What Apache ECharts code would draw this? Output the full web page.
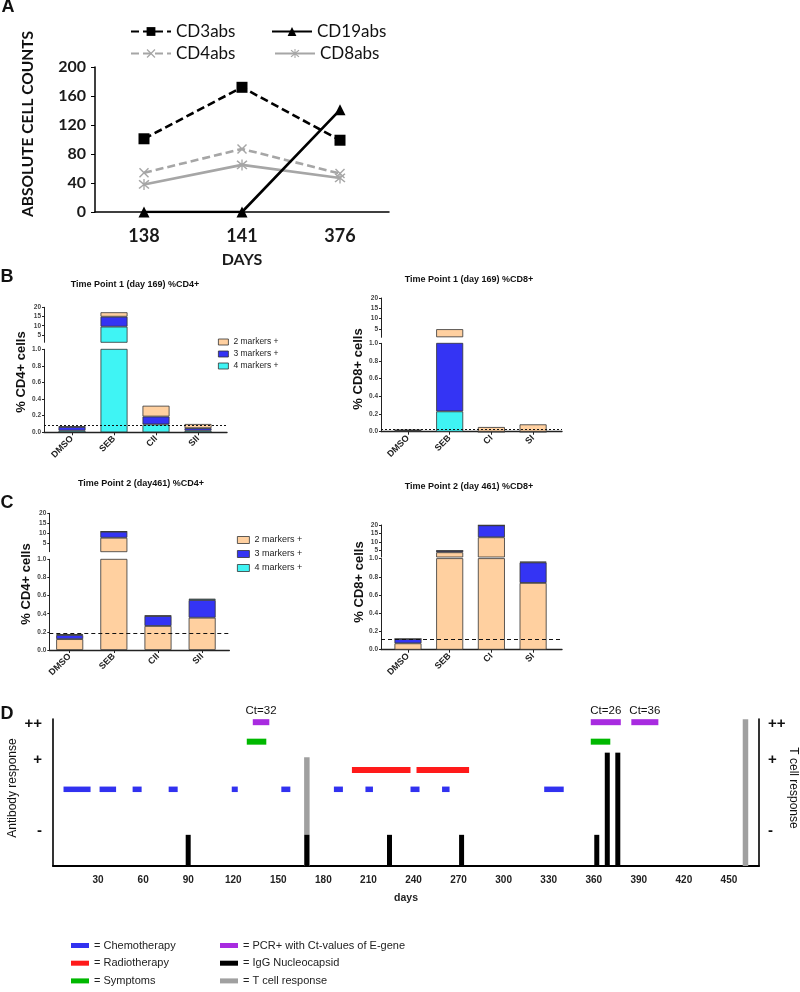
<!DOCTYPE html>
<html><head><meta charset="utf-8">
<script src="https://cdn.jsdelivr.net/npm/echarts@6/dist/echarts.min.js"></script>
<style>html,body{margin:0;padding:0;background:#fff}#c{width:800px;height:992px}</style>
</head><body><div id="c"></div>
<script>
// ---------- Panel A data ----------
const daysA = ['138', '141', '376'];
const cd3abs = [101, 172, 99];
const cd19abs = [0, 0, 141];
const cd4abs = [54, 87, 53];
const cd8abs = [38, 65, 47];

// ---------- Panel B / C data ----------
const stimCD4 = ['DMSO', 'SEB', 'CII', 'SII'];
const stimCD8 = ['DMSO', 'SEB', 'CI', 'SI'];
const upperTicks = [5, 10, 15, 20];
// Time point 1 (day 169) %CD4+
const tp1CD4_m2 = [0.005, 2.4, 0.13, 0.05];
const tp1CD4_m3 = [0.045, 5.4, 0.095, 0.03];
const tp1CD4_m4 = [0.02, 9.5, 0.095, 0.02];
const tp1CD4_thr = 0.076;
// Time point 1 (day 169) %CD8+
const tp1CD8_m2 = [0.005, 3.9, 0.053, 0.083];
const tp1CD8_m3 = [0.01, 0.8, 0, 0];
const tp1CD8_m4 = [0.005, 0.23, 0, 0];
const tp1CD8_thr = 0.03;
// Time point 2 (day 461) %CD4+
const tp2CD4_m2 = [0.12, 7.9, 0.265, 0.356];
const tp2CD4_m3 = [0.045, 3.0, 0.11, 0.195];
const tp2CD4_m4 = [0.01, 0.15, 0.005, 0.015];
const tp2CD4_thr = 0.176;
// Time point 2 (day 461) %CD8+
const tp2CD8_m2 = [0.07, 3.8, 12.7, 0.733];
const tp2CD8_m3 = [0.048, 0.9, 7.1, 0.225];
const tp2CD8_m4 = [0, 0, 0, 0.008];
const tp2CD8_thr = 0.114;

// ---------- Panel D data ----------
const chemoDays = [[7,25],[31,42],[53,59],[77,83],[119,123],[152,158],[187,193],[208,213],[238,244],[259,264],[327,340]];
const radioDays = [[199,238],[242,277]];
const symptomDays = [[129,142],[358,371]];
const pcrDays = [[133,144],[358,378],[385,403]];
const pcrCtLabels = ['Ct=32', 'Ct=26', 'Ct=36'];
const iggDays = [90, 169, 224, 272, 362, 369, 376];
const iggLevel = [0.88, 0.88, 0.88, 0.88, 0.88, 3.2, 3.2];
const tcellDays = [169, 461];
const tcellLevel = [3.07, 4.14];
const responseTickValues = [1, 3, 4];
const responseTickLabels = ['-', '+', '++'];

// ---------- styles ----------
const PEACH = '#ffd0a0', BLUE = '#3434f4', CYAN = '#3ff4f4';
const ARIAL = 'Liberation Sans, Arial, sans-serif';
const M2 = '2 markers +', M3 = '3 markers +', M4 = '4 markers +';

const option = {
  animation: false,
  backgroundColor: '#fff',
  grid: [], xAxis: [], yAxis: [], series: [], legend: [], graphic: []
};

// ---------- Panel A ----------
option.grid.push({left: 95, top: 67, width: 294, height: 145, outerBoundsMode: 'none'});
option.xAxis.push({
  type: 'category', gridIndex: 0, data: daysA, boundaryGap: true,
  axisLine: {show: true, onZero: false, lineStyle: {color: '#000', width: 1.5}},
  axisTick: {show: false},
  axisLabel: {fontFamily: 'Lato', fontWeight: 'bold', fontSize: 18, color: '#1a1a1a', margin: 15},
  name: 'DAYS', nameLocation: 'middle', nameGap: 40,
  nameTextStyle: {fontFamily: 'Lato', fontWeight: 'bold', fontSize: 16, color: '#1a1a1a'}
});
option.yAxis.push({
  type: 'value', gridIndex: 0, min: 0, max: 200, interval: 40,
  axisLine: {show: true, onZero: false, lineStyle: {color: '#000', width: 1.5}},
  axisTick: {show: true, length: 4, lineStyle: {color: '#000'}},
  axisLabel: {fontFamily: 'Lato', fontWeight: 'bold', fontSize: 16, color: '#1a1a1a', margin: 9},
  splitLine: {show: false}
});
const xMark = 'path://M1,0 L5,4 L9,0 L10,1 L6,5 L10,9 L9,10 L5,6 L1,10 L0,9 L4,5 L0,1 Z';
const asterisk = 'path://M1,0 L5,4 L9,0 L10,1 L6,5 L10,9 L9,10 L5,6 L1,10 L0,9 L4,5 L0,1 Z M4.4,-1 L5.6,-1 L5.6,11 L4.4,11 Z';
function lineSeries(name, data, color, dashed, symbol, size) {
  return {
    type: 'line', name, data, xAxisIndex: 0, yAxisIndex: 0,
    symbol, symbolSize: size, itemStyle: {color},
    lineStyle: {color, width: 2.6, type: dashed ? [8, 4] : 'solid'}
  };
}
option.series.push(lineSeries('CD4abs', cd4abs, '#a6a6a6', true, xMark, 10));
option.series.push(lineSeries('CD8abs', cd8abs, '#a6a6a6', false, asterisk, 11));
option.series.push(lineSeries('CD3abs', cd3abs, '#000', true, 'rect', 11));
option.series.push(lineSeries('CD19abs', cd19abs, '#000', false, 'triangle', 11));
function legA(name, left, top) {
  return {
    data: [name], left, top, padding: 0, itemWidth: 40, itemHeight: 11, selectedMode: false,
    textStyle: {fontFamily: 'Lato', fontSize: 17, color: '#111'}
  };
}
option.legend.push(legA('CD3abs', 130, 23));
option.legend.push(legA('CD19abs', 271, 23));
option.legend.push(legA('CD4abs', 130, 45));
option.legend.push(legA('CD8abs', 274, 45));

// ---------- Panels B and C (broken y axes) ----------
function addBroken(c) {
  const gi = option.grid.length;
  const xa = option.xAxis.length;
  const ya = option.yAxis.length;
  const w = c.xR - c.xL;
  option.grid.push({left: c.xL, width: w, top: c.upTop, height: c.upBot - c.upTop, outerBoundsMode: 'none'});
  option.grid.push({left: c.xL, width: w, top: c.lowTop, height: c.lowBot - c.lowTop, outerBoundsMode: 'none'});
  option.xAxis.push({type: 'value', gridIndex: gi, min: c.xmin, max: c.xmax, show: false, splitLine: {show: false}});
  option.xAxis.push({
    type: 'value', gridIndex: gi + 1, min: c.xmin, max: c.xmax,
    axisLine: {show: true, onZero: false, lineStyle: {color: '#222', width: 1.4}},
    axisTick: {show: true, customValues: [0, 1, 2, 3], length: 3, lineStyle: {color: '#222'}},
    axisLabel: {customValues: [0, 1, 2, 3], formatter: v => c.cats[Math.round(v)], rotate: 45,
      fontFamily: ARIAL, fontWeight: 'bold', fontSize: 9, color: '#222', margin: 5},
    splitLine: {show: false}
  });
  const yLbl = {fontFamily: ARIAL, fontWeight: 'bold', fontSize: 6.5, color: '#444', margin: 3};
  option.yAxis.push({
    type: 'value', gridIndex: gi, min: 1, max: 20,
    axisLine: {show: true, onZero: false, lineStyle: {color: '#222', width: 1}},
    axisTick: {show: true, customValues: upperTicks, length: 2, lineStyle: {color: '#222'}},
    axisLabel: Object.assign({customValues: upperTicks}, yLbl),
    splitLine: {show: false}
  });
  option.yAxis.push({
    type: 'value', gridIndex: gi + 1, min: 0, max: 1, interval: 0.2,
    axisLine: {show: true, onZero: false, lineStyle: {color: '#222', width: 1}},
    axisTick: {show: true, length: 2, lineStyle: {color: '#222'}},
    axisLabel: Object.assign({formatter: v => v.toFixed(1)}, yLbl),
    splitLine: {show: false}
  });
  const L2 = {name: M2, vals: c.m2, color: PEACH};
  const L3 = {name: M3, vals: c.m3, color: BLUE};
  const L4 = {name: M4, vals: c.m4, color: CYAN};
  const layers = c.peachBottom ? [L2, L3, L4] : [L4, L3, L2];
  for (let part = 0; part < 2; part++) {
    layers.forEach((L, k) => {
      const s = {
        type: 'bar', name: L.name, xAxisIndex: xa + part, yAxisIndex: ya + part,
        stack: 'st' + gi + '_' + part, barWidth: 27,
        // value first so that the value dimension is the stacked one
        data: L.vals.map((v, i) => [v, i]),
        encode: {x: 1, y: 0},
        itemStyle: {color: L.color, borderColor: '#333', borderWidth: 0.8}
      };
      if (part === 1 && k === 0) {
        s.markLine = {
          silent: true, symbol: 'none', label: {show: false},
          lineStyle: {color: '#111', width: 1, type: c.dash},
          data: [{yAxis: c.thr}]
        };
      }
      option.series.push(s);
    });
  }
}
addBroken({xL: 44, xR: 227, xmin: -0.667, xmax: 3.69, upTop: 307.3, upBot: 342.3, lowTop: 349.3, lowBot: 432.3,
  cats: stimCD4, m2: tp1CD4_m2, m3: tp1CD4_m3, m4: tp1CD4_m4, thr: tp1CD4_thr, peachBottom: false, dash: [2, 2]});
addBroken({xL: 381, xR: 562, xmin: -0.647, xmax: 3.693, upTop: 298, upBot: 337.3, lowTop: 343.3, lowBot: 431.7,
  cats: stimCD8, m2: tp1CD8_m2, m3: tp1CD8_m3, m4: tp1CD8_m4, thr: tp1CD8_thr, peachBottom: false, dash: [2, 2]});
addBroken({xL: 49.3, xR: 229.3, xmin: -0.462, xmax: 3.615, upTop: 513.3, upBot: 551.7, lowTop: 559.3, lowBot: 650,
  cats: stimCD4, m2: tp2CD4_m2, m3: tp2CD4_m3, m4: tp2CD4_m4, thr: tp2CD4_thr, peachBottom: true, dash: [4, 3]});
addBroken({xL: 381, xR: 562, xmin: -0.647, xmax: 3.693, upTop: 525, upBot: 557, lowTop: 558.6, lowBot: 649.7,
  cats: stimCD8, m2: tp2CD8_m2, m3: tp2CD8_m3, m4: tp2CD8_m4, thr: tp2CD8_thr, peachBottom: true, dash: [4, 3]});

function legMarkers(left, top, w, h, gap, fs) {
  return {
    data: [M2, M3, M4], orient: 'vertical', left, top, padding: 0, height: 60,
    itemWidth: w, itemHeight: h, itemGap: gap,
    icon: 'rect', selectedMode: false,
    itemStyle: {borderColor: '#333', borderWidth: 0.8},
    textStyle: {fontFamily: ARIAL, fontSize: fs, color: '#222'}
  };
}
option.legend.push(legMarkers(218, 337.5, 10, 6, 3, 8.5));
option.legend.push(legMarkers(237, 535.5, 12, 7, 5, 9));

// ---------- Panel D ----------
const gD = option.grid.length;
option.grid.push({left: 53, top: 719, width: 706, height: 147, outerBoundsMode: 'none'});
const xD = option.xAxis.length;
option.xAxis.push({
  type: 'value', gridIndex: gD, min: 0, max: 470, interval: 30,
  axisLine: {show: true, onZero: false, lineStyle: {color: '#000', width: 2}},
  axisTick: {show: false},
  axisLabel: {fontFamily: ARIAL, fontWeight: 'bold', fontSize: 10, color: '#222', margin: 9,
    showMaxLabel: false, formatter: v => (v === 0 ? '' : String(v))},
  splitLine: {show: false},
  name: 'days', nameLocation: 'middle', nameGap: 27,
  nameTextStyle: {fontFamily: ARIAL, fontWeight: 'bold', fontSize: 10.5, color: '#222'}
});
const yD = option.yAxis.length;
['left', 'right'].forEach(pos => {
  option.yAxis.push({
    type: 'value', gridIndex: gD, position: pos, min: 0, max: 4.15,
    axisLine: {show: true, onZero: false, lineStyle: {color: '#000', width: 1.6}},
    axisTick: {show: false},
    axisLabel: {customValues: responseTickValues,
      formatter: v => responseTickLabels[responseTickValues.indexOf(Math.round(v))],
      fontFamily: ARIAL, fontWeight: 'bold', fontSize: 15, color: '#111', margin: pos === 'left' ? 11 : 9},
    splitLine: {show: false}
  });
});
function vbar(width) {
  return function (params, api) {
    const d = api.value(0), h = api.value(1);
    const p0 = api.coord([d, 0]), p1 = api.coord([d, h]);
    return {type: 'rect', shape: {x: p0[0] - width / 2, y: p1[1], width, height: p0[1] - p1[1]},
      style: {fill: api.visual('color')}};
  };
}
function hseg(level, thick, labels) {
  return function (params, api) {
    const a = api.coord([api.value(0), level]), b = api.coord([api.value(1), level]);
    const rect = {type: 'rect', shape: {x: a[0], y: a[1] - thick / 2, width: b[0] - a[0], height: thick},
      style: {fill: api.visual('color')}};
    if (!labels) return rect;
    return {type: 'group', children: [rect, {
      type: 'text', x: (a[0] + b[0]) / 2, y: a[1] - thick / 2 - 2,
      style: {text: labels[params.dataIndex], fontFamily: ARIAL, fontSize: 11.5, fill: '#111',
        align: 'center', verticalAlign: 'bottom', textAlign: 'center', textVerticalAlign: 'bottom'}
    }]};
  };
}
function dSeries(name, color, data, renderItem) {
  return {type: 'custom', name, xAxisIndex: xD, yAxisIndex: yD, data, renderItem,
    itemStyle: {color}, clip: false};
}
option.series.push(dSeries('T cell response', '#a0a0a0', tcellDays.map((d, i) => [d, tcellLevel[i]]), vbar(5.5)));
option.series.push(dSeries('IgG Nucleocapsid', '#000', iggDays.map((d, i) => [d, iggLevel[i]]), vbar(5)));
option.series.push(dSeries('Chemotherapy', '#3131f0', chemoDays, hseg(2.165, 5.5)));
option.series.push(dSeries('Radiotherapy', '#ff1a1a', radioDays, hseg(2.71, 6)));
option.series.push(dSeries('Symptoms', '#00b800', symptomDays, hseg(3.51, 6)));
option.series.push(dSeries('PCR+ with Ct-values of E-gene', '#a82be0', pcrDays, hseg(4.06, 6, pcrCtLabels)));

function legD(names, left) {
  return {
    data: names, orient: 'vertical', left, top: 940, padding: 0, height: 80,
    itemWidth: 18, itemHeight: 5, itemGap: 6.7,
    icon: 'rect', selectedMode: false, formatter: n => '= ' + n,
    textStyle: {fontFamily: ARIAL, fontSize: 11, color: '#222'}
  };
}
option.legend.push(legD(['Chemotherapy', 'Radiotherapy', 'Symptoms'], 71));
option.legend.push(legD(['PCR+ with Ct-values of E-gene', 'IgG Nucleocapsid', 'T cell response'], 220));

// ---------- texts ----------
function txt(text, x, y, font, rot, align) {
  return {type: 'text', x, y, rotation: rot || 0, silent: true,
    style: {text, font, fill: '#111', align: align || 'center', verticalAlign: 'middle',
      textAlign: align || 'center', textVerticalAlign: 'middle'}};
}
const letterFont = 'bold 18px ' + ARIAL;
option.graphic.push(txt('A', 8, 7, letterFont));
option.graphic.push(txt('B', 7, 277, letterFont));
option.graphic.push(txt('C', 7, 503, letterFont));
option.graphic.push(txt('D', 7, 714, letterFont));
option.graphic.push(txt('ABSOLUTE CELL COUNTS', 27.5, 124, 'bold 15.5px Lato', Math.PI / 2));
const titleFont = 'bold 9px ' + ARIAL;
option.graphic.push(txt('Time Point 1 (day 169) %CD4+', 135, 285, titleFont));
option.graphic.push(txt('Time Point 1 (day 169) %CD8+', 469, 280, titleFont));
option.graphic.push(txt('Time Point 2 (day461) %CD4+', 141, 483.5, titleFont));
option.graphic.push(txt('Time Point 2 (day 461) %CD8+', 469, 486.5, titleFont));
const axFont = 'bold 13px ' + ARIAL;
option.graphic.push(txt('% CD4+ cells', 21, 372, axFont, Math.PI / 2));
option.graphic.push(txt('% CD8+ cells', 358, 369, axFont, Math.PI / 2));
option.graphic.push(txt('% CD4+ cells', 26, 584, axFont, Math.PI / 2));
option.graphic.push(txt('% CD8+ cells', 359, 582, axFont, Math.PI / 2));
option.graphic.push(txt('Antibody response', 13, 788, '12px ' + ARIAL, Math.PI / 2));
option.graphic.push(txt('T cell response', 793, 788, '12px ' + ARIAL, -Math.PI / 2));

const chart = echarts.init(document.getElementById('c'), null, {renderer: 'canvas'});
chart.setOption(option);
</script>
</body></html>
